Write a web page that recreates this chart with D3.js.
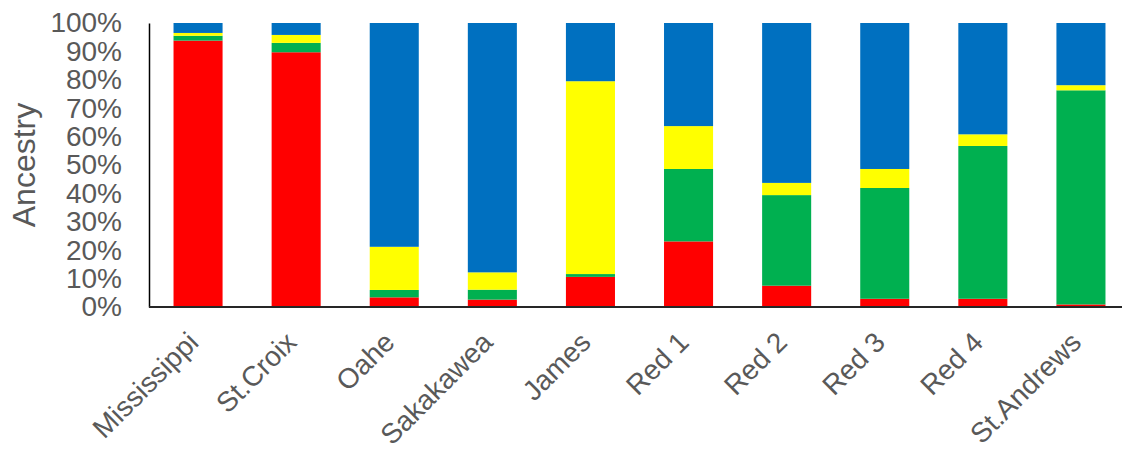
<!DOCTYPE html>
<html>
<head>
<meta charset="utf-8">
<script src="https://cdn.jsdelivr.net/npm/d3@7"></script>
<style>
  html, body { margin: 0; padding: 0; background: #fff; }
  svg { display: block; }
</style>
</head>
<body>
<svg id="chart" width="1122" height="449"></svg>
<script>
const categories = ["Mississippi", "St.Croix", "Oahe", "Sakakawea", "James", "Red 1", "Red 2", "Red 3", "Red 4", "St.Andrews"];
const seriesNames = ["red", "green", "yellow", "blue"];
const redValues    = [93.8, 89.7, 3.4, 2.6, 10.6, 23.1, 7.5, 2.9, 2.9, 0.9];
const greenValues  = [1.7, 3.3, 2.6, 3.5, 1.0, 25.5, 31.9, 39.0, 53.8, 75.4];
const yellowValues = [1.0, 2.8, 15.2, 6.1, 67.9, 15.1, 4.3, 6.7, 4.1, 1.8];
const blueValues   = [3.5, 4.2, 78.8, 87.8, 20.5, 36.3, 56.3, 51.4, 39.2, 21.9];
const tickValues = [0, 10, 20, 30, 40, 50, 60, 70, 80, 90, 100];
const colors = { red: "#FF0000", green: "#00B050", yellow: "#FFFF00", blue: "#0070C0" };

const table = categories.map((c, i) => ({
  cat: c, red: redValues[i], green: greenValues[i], yellow: yellowValues[i], blue: blueValues[i]
}));

const svg = d3.select("#chart");
const mLeft = 149, mRight = 1130, mTop = 23, mBottom = 307;
const font = "'Liberation Sans', Arial, sans-serif";
const textColor = "#595959";

const x = d3.scaleBand().domain(categories).range([mLeft, mRight]).paddingInner(0.5).paddingOuter(0.25);
const y = d3.scaleLinear().domain([0, 100]).range([mBottom, mTop]);

const stack = d3.stack().keys(seriesNames).offset(d3.stackOffsetExpand);
const stacked = stack(table);

svg.append("g").selectAll("g")
  .data(stacked)
  .join("g")
  .attr("fill", d => colors[d.key])
  .selectAll("rect")
  .data(d => d)
  .join("rect")
  .attr("x", d => x(d.data.cat))
  .attr("width", x.bandwidth())
  .attr("y", d => y(d[1] * 100))
  .attr("height", d => y(d[0] * 100) - y(d[1] * 100));

// Y axis
const yAxis = d3.axisLeft(y).tickValues(tickValues).tickFormat(d => d + "%").tickSize(0).tickPadding(27);
const gy = svg.append("g").attr("transform", `translate(${mLeft},0)`).call(yAxis);
gy.select(".domain").attr("stroke", "#000").attr("stroke-width", 1.5);
gy.selectAll("text").attr("font-family", font).attr("font-size", 28).attr("fill", textColor);

// X axis
const xAxis = d3.axisBottom(x).tickSize(0).tickPadding(0);
const gx = svg.append("g").attr("transform", `translate(0,${mBottom})`).call(xAxis);
gx.select(".domain").attr("stroke", "#262626").attr("stroke-width", 2).attr("d", `M${mLeft},0H${1122}`);
gx.selectAll("text")
  .attr("font-family", font).attr("font-size", 28).attr("fill", textColor)
  .attr("text-anchor", "end")
  .attr("dy", 0)
  .attr("y", 0)
  .attr("transform", "translate(2,37) rotate(-45)");

// Y title
svg.append("text")
  .attr("transform", "translate(35,165) rotate(-90)")
  .attr("text-anchor", "middle")
  .attr("font-family", font).attr("font-size", 32).attr("fill", textColor)
  .text("Ancestry");
</script>
</body>
</html>
